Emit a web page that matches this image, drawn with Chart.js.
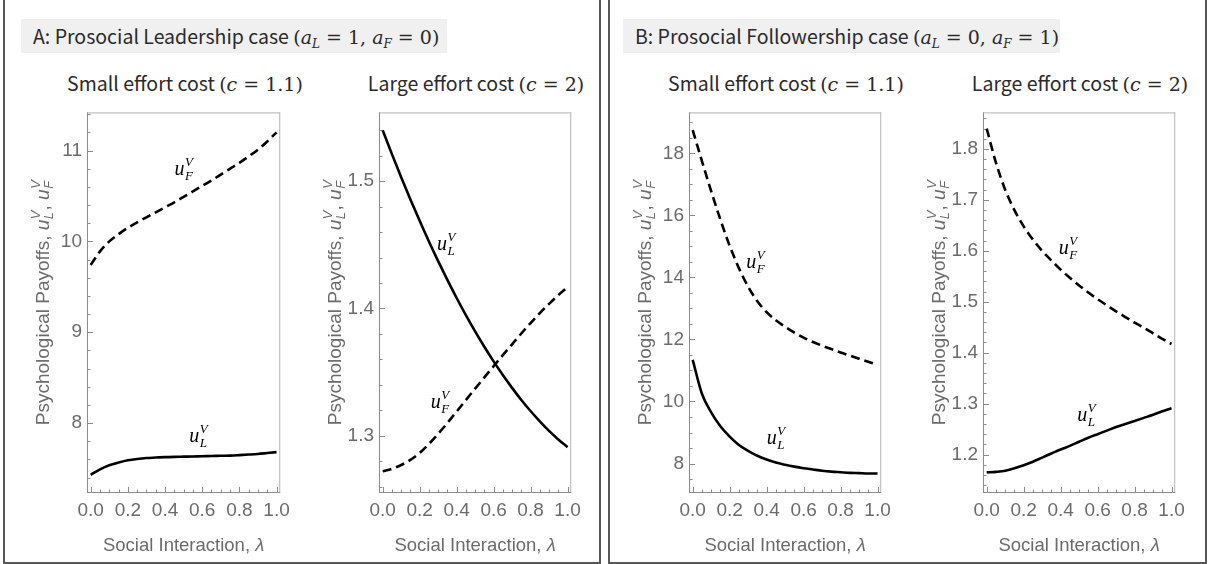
<!DOCTYPE html>
<html><head><meta charset="utf-8">
<script src="https://cdn.jsdelivr.net/npm/chart.js@4.4.1/dist/chart.umd.min.js"></script>
<style>
html,body{margin:0;padding:0;background:#fff;}
body{width:1209px;height:564px;overflow:hidden;position:relative;}
.panel{position:absolute;box-sizing:border-box;border:2px solid #575757;}
.tbox{position:absolute;background:#f0f0f0;height:34px;line-height:34px;font-family:"Noto Sans CJK JP";font-size:19.5px;color:#2a2a2a;padding-left:12px;box-sizing:border-box;white-space:nowrap;}
.sub{position:absolute;top:70px;line-height:26px;font-family:"Noto Sans CJK JP";font-size:19.5px;color:#2a2a2a;white-space:nowrap;transform:translateX(-50%);}
.m{font-family:"DejaVu Serif";font-style:italic;font-size:19px;}
.r{font-family:"DejaVu Serif";font-size:19px;}
.m sub{font-size:12px;vertical-align:-4px;line-height:0;}
canvas{position:absolute;top:96px;}
</style></head>
<body>
<div class="panel" style="left:3px;top:-4px;width:598px;height:568px;"></div>
<div class="panel" style="left:608px;top:-4px;width:599px;height:568px;"></div>
<div class="tbox" style="left:21px;top:19px;width:426px;">A: Prosocial Leadership case <span class="r">(</span><span class="m">a<sub>L</sub></span><span class="r"> = 1, </span><span class="m">a<sub>F</sub></span><span class="r"> = 0)</span></div>
<div class="tbox" style="left:623px;top:19px;width:437px;">B: Prosocial Followership case <span class="r">(</span><span class="m">a<sub>L</sub></span><span class="r"> = 0, </span><span class="m">a<sub>F</sub></span><span class="r"> = 1)</span></div>
<div class="sub" style="left:185px;">Small effort cost <span class="r">(</span><span class="m">c</span><span class="r"> = 1.1)</span></div>
<div class="sub" style="left:476px;">Large effort cost <span class="r">(</span><span class="m">c</span><span class="r"> = 2)</span></div>
<div class="sub" style="left:786px;">Small effort cost <span class="r">(</span><span class="m">c</span><span class="r"> = 1.1)</span></div>
<div class="sub" style="left:1080px;">Large effort cost <span class="r">(</span><span class="m">c</span><span class="r"> = 2)</span></div>
<canvas id="a1" width="271" height="464" style="left:25px;"></canvas>
<canvas id="a2" width="270" height="464" style="left:317px;"></canvas>
<canvas id="b1" width="270" height="464" style="left:627px;"></canvas>
<canvas id="b2" width="270" height="464" style="left:921px;"></canvas>
<script>
// ---- data ----
const lambda = [0,0.05,0.1,0.15,0.2,0.25,0.3,0.35,0.4,0.45,0.5,0.55,0.6,0.65,0.7,0.75,0.8,0.85,0.9,0.95,1.0];
const xTicks = [0,0.2,0.4,0.6,0.8,1.0];
const xTickLabels = ['0.0','0.2','0.4','0.6','0.8','1.0'];

// Panel A, small cost (c = 1.1)
const a1_uL = [7.43,7.49,7.535,7.565,7.59,7.605,7.615,7.62,7.625,7.628,7.63,7.632,7.635,7.637,7.64,7.642,7.647,7.653,7.66,7.67,7.68];
const a1_uF = [9.74,9.89,10.00,10.08,10.15,10.21,10.265,10.32,10.375,10.43,10.49,10.55,10.61,10.67,10.735,10.80,10.865,10.935,11.01,11.10,11.20];
const a1_yTicks = [8,9,10,11];
const a1_yTickLabels = ['8','9','10','11'];

// Panel A, large cost (c = 2)
const a2_uL = [1.540,1.5212,1.5030,1.4856,1.4688,1.4526,1.4372,1.4224,1.4082,1.3948,1.3820,1.3699,1.3584,1.3477,1.3376,1.3281,1.3194,1.3113,1.3038,1.2971,1.2910];
const a2_uF = [1.272,1.274,1.277,1.281,1.2865,1.2935,1.3015,1.310,1.319,1.328,1.337,1.3458,1.3546,1.3633,1.3718,1.3803,1.3885,1.3963,1.4036,1.4104,1.4167];
const a2_yTicks = [1.3,1.4,1.5];
const a2_yTickLabels = ['1.3','1.4','1.5'];

// Panel B, small cost (c = 1.1)
const b1_uL = [11.34,10.25,9.65,9.2,8.87,8.6,8.41,8.25,8.13,8.03,7.96,7.9,7.85,7.81,7.77,7.74,7.72,7.70,7.69,7.68,7.68];
const b1_uF = [18.75,17.75,16.78,15.86,15.02,14.3,13.7,13.23,12.88,12.62,12.41,12.22,12.06,11.92,11.80,11.69,11.58,11.48,11.38,11.28,11.19];
const b1_yTicks = [8,10,12,14,16,18];
const b1_yTickLabels = ['8','10','12','14','16','18'];

// Panel B, large cost (c = 2)
const b2_uL = [1.165,1.166,1.168,1.173,1.179,1.186,1.194,1.202,1.210,1.217,1.225,1.233,1.240,1.247,1.254,1.260,1.266,1.272,1.278,1.285,1.291];
const b2_uF = [1.84,1.773,1.72,1.68,1.648,1.622,1.600,1.581,1.563,1.547,1.532,1.518,1.505,1.493,1.481,1.470,1.459,1.449,1.438,1.427,1.417];
const b2_yTicks = [1.2,1.3,1.4,1.5,1.6,1.7,1.8];
const b2_yTickLabels = ['1.2','1.3','1.4','1.5','1.6','1.7','1.8'];

// ---- chart setup ----
const GRAY = '#6b6b6b';
const SANS = '"Liberation Sans", Arial, sans-serif';
const SERIF = '"Liberation Serif", "DejaVu Serif", serif';

function drawScripted(ctx, x, y, base, sub, sup, bFont, sFont, dSub, dSup) {
  ctx.font = bFont; ctx.fillText(base, x, y);
  const bw = ctx.measureText(base).width;
  ctx.font = sFont;
  const w1 = ctx.measureText(sub).width, w2 = ctx.measureText(sup).width;
  ctx.fillText(sub, x + bw + 0.5, y + dSub);
  ctx.fillText(sup, x + bw + 0.5, y - dSup);
  return bw + Math.max(w1, w2) + 0.5;
}
function widthScripted(ctx, base, sub, sup, bFont, sFont) {
  ctx.font = bFont; const bw = ctx.measureText(base).width;
  ctx.font = sFont;
  return bw + Math.max(ctx.measureText(sub).width, ctx.measureText(sup).width) + 0.5;
}

function overlay(cfg) {
  return {
    id: 'overlay',
    beforeDatasetsDraw(chart) {
      const {ctx, chartArea: a, scales: {x, y}} = chart;
      ctx.save();
      ctx.lineWidth = 1;
      ctx.strokeStyle = '#b4b4b4';
      ctx.beginPath();
      ctx.moveTo(a.left, a.top + 0.5); ctx.lineTo(a.right, a.top + 0.5);
      ctx.moveTo(a.right - 0.5, a.top); ctx.lineTo(a.right - 0.5, a.bottom);
      ctx.stroke();
      ctx.strokeStyle = '#8c8c8c';
      ctx.beginPath();
      ctx.moveTo(a.left + 0.5, a.top); ctx.lineTo(a.left + 0.5, a.bottom);
      ctx.moveTo(a.left, a.bottom - 0.5); ctx.lineTo(a.right, a.bottom - 0.5);
      ctx.stroke();
      ctx.strokeStyle = '#8c8c8c';
      ctx.beginPath();
      const xs = 0.05;
      for (let k = Math.ceil(x.min / xs); k * xs <= x.max + 1e-9; k++) {
        const v = k * xs;
        const major = xTicks.some(t => Math.abs(t - v) < 1e-6);
        const px = Math.round(x.getPixelForValue(v)) + 0.5;
        ctx.moveTo(px, a.bottom); ctx.lineTo(px, a.bottom - (major ? 6 : 3.5));
      }
      const ys = cfg.minor;
      for (let k = Math.ceil(y.min / ys - 1e-9); k * ys <= y.max + 1e-9; k++) {
        const v = k * ys;
        const major = cfg.yTicks.some(t => Math.abs(t - v) < 1e-6);
        const py = Math.round(y.getPixelForValue(v)) + 0.5;
        ctx.moveTo(a.left, py); ctx.lineTo(a.left + (major ? 6 : 3.5), py);
      }
      ctx.stroke();
      ctx.restore();
    },
    afterDatasetsDraw(chart) {
      const {ctx, chartArea: a, scales: {x, y}} = chart;
      ctx.save();
      ctx.fillStyle = '#000';
      ctx.textBaseline = 'alphabetic';
      ctx.textAlign = 'left';
      const bF = 'italic 20px ' + SERIF, sF = 'italic 13px ' + SERIF;
      cfg.labels.forEach(l => {
        const w = widthScripted(ctx, 'u', l.sub, 'V', bF, sF);
        const cx = x.getPixelForValue(l.x), cy = y.getPixelForValue(l.y);
        drawScripted(ctx, cx - w / 2, cy + 3, 'u', l.sub, 'V', bF, sF, 5, 9);
      });
      // x axis title
      ctx.fillStyle = GRAY;
      const t1 = 'Social Interaction, ';
      const xF = '18.5px ' + SANS, xIF = 'italic 18.5px ' + SANS;
      ctx.font = xF; const w1 = ctx.measureText(t1).width;
      ctx.font = xIF; const w2 = ctx.measureText('\u03bb').width;
      const xc = (a.left + a.right) / 2;
      const xx = xc - (w1 + w2) / 2;
      const yb = 455;
      ctx.font = xF; ctx.fillText(t1, xx, yb);
      ctx.font = xIF; ctx.fillText('\u03bb', xx + w1, yb);
      // y axis title (rotated)
      ctx.translate(a.left - 44, (a.top + a.bottom) / 2);
      ctx.rotate(-Math.PI / 2);
      const p1 = 'Psychological Payoffs, ';
      const nF = '19px ' + SANS, iF = 'italic 19px ' + SANS, sIF = 'italic 13px ' + SANS;
      ctx.font = nF;
      const pw = ctx.measureText(p1).width, cw = ctx.measureText(', ').width;
      const uw1 = widthScripted(ctx, 'u', 'L', 'V', iF, sIF);
      const uw2 = widthScripted(ctx, 'u', 'F', 'V', iF, sIF);
      const total = pw + uw1 + cw + uw2;
      let px = -total / 2;
      const by = 6;
      ctx.font = nF; ctx.fillText(p1, px, by); px += pw;
      px += drawScripted(ctx, px, by, 'u', 'L', 'V', iF, sIF, 4, 9);
      ctx.font = nF; ctx.fillText(', ', px, by); px += cw;
      drawScripted(ctx, px, by, 'u', 'F', 'V', iF, sIF, 4, 9);
      ctx.restore();
    }
  };
}

function makeChart(id, cfg) {
  const line = (vals, dash) => ({
    data: lambda.map((v, i) => ({x: v, y: vals[i]})),
    borderColor: '#000', borderWidth: 2.6, borderDash: dash, pointRadius: 0,
    fill: false, cubicInterpolationMode: 'monotone', borderCapStyle: 'butt'
  });
  new Chart(document.getElementById(id), {
    type: 'line',
    data: {datasets: [line(cfg.uL, []), line(cfg.uF, [9, 5])]},
    options: {
      responsive: false, animation: false, devicePixelRatio: 1,
      layout: {padding: {left: 0, right: 14, top: 8, bottom: 0}},
      plugins: {legend: {display: false}, tooltip: {enabled: false}, title: {display: false}},
      scales: {
        x: {
          type: 'linear', min: -0.02, max: 1.02,
          grid: {display: false, drawTicks: false}, border: {display: false},
          afterBuildTicks: s => { s.ticks = xTicks.map(v => ({value: v})); },
          afterFit: s => { s.height = 67; },
          ticks: {callback: (v, i) => xTickLabels[i], font: {family: SANS, size: 19}, color: GRAY, padding: 6, maxRotation: 0, autoSkip: false}
        },
        y: {
          type: 'linear', min: cfg.yMin, max: cfg.yMax,
          grid: {display: false, drawTicks: false}, border: {display: false},
          afterBuildTicks: s => { s.ticks = cfg.yTicks.map(v => ({value: v})); },
          afterFit: s => { s.width = 62; },
          ticks: {callback: (v, i) => cfg.yLabels[i], font: {family: SANS, size: 19}, color: GRAY, padding: 5, autoSkip: false}
        }
      }
    },
    plugins: [overlay(cfg)]
  });
}

makeChart('a1', {uL: a1_uL, uF: a1_uF, yMin: 7.23, yMax: 11.42, yTicks: a1_yTicks, yLabels: a1_yTickLabels, minor: 0.2,
  labels: [{x: 0.50, y: 10.76, sub: 'F'}, {x: 0.58, y: 7.82, sub: 'L'}]});
makeChart('a2', {uL: a2_uL, uF: a2_uF, yMin: 1.255, yMax: 1.554, yTicks: a2_yTicks, yLabels: a2_yTickLabels, minor: 0.02,
  labels: [{x: 0.344, y: 1.448, sub: 'L'}, {x: 0.31, y: 1.324, sub: 'F'}]});
makeChart('b1', {uL: b1_uL, uF: b1_uF, yMin: 7.05, yMax: 19.32, yTicks: b1_yTicks, yLabels: b1_yTickLabels, minor: 0.5,
  labels: [{x: 0.34, y: 14.39, sub: 'F'}, {x: 0.45, y: 8.73, sub: 'L'}]});
makeChart('b2', {uL: b2_uL, uF: b2_uF, yMin: 1.1245, yMax: 1.8717, yTicks: b2_yTicks, yLabels: b2_yTickLabels, minor: 0.02,
  labels: [{x: 0.44, y: 1.60, sub: 'F'}, {x: 0.54, y: 1.271, sub: 'L'}]});
</script>
</body></html>
